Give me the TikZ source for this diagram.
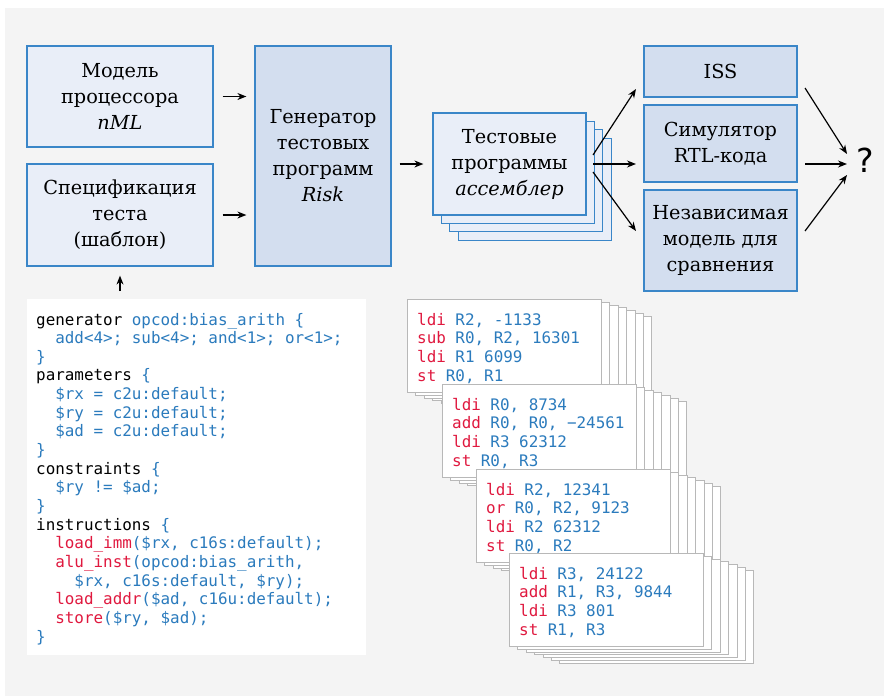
\documentclass[tikz,border=0pt]{standalone}
\usepackage{fontspec}
\setmainfont{DejaVu Serif}
\setmonofont{DejaVu Sans Mono}
\newfontfamily\qfont{DejaVu Sans}
\usetikzlibrary{arrows.meta}
\definecolor{bg}{HTML}{F4F4F4}
\definecolor{bord}{HTML}{3A86C8}
\definecolor{lightfill}{HTML}{E9EEF8}
\definecolor{darkfill}{HTML}{D3DEEF}
\definecolor{codeblue}{HTML}{2B7BBD}
\definecolor{codered}{HTML}{E0193F}
\definecolor{cardline}{HTML}{B8B8B8}
\newcommand\cR[1]{\textcolor{codered}{#1}}
\newcommand\cB[1]{\textcolor{codeblue}{#1}}
\tikzset{
  box/.style={draw=bord, line width=1.2pt, inner sep=0pt, align=center,
    font=\fontsize{19.3}{26}\selectfont},
  lbox/.style={box, fill=lightfill},
  dbox/.style={box, fill=darkfill},
  card/.style={draw=cardline, fill=white, line width=1pt, inner sep=0pt,
    minimum width=194pt, minimum height=93pt},
  codetxt/.style={anchor=base west, inner sep=0pt,
    font=\fontsize{15.9}{18}\selectfont\ttfamily},
  arr/.style={line width=1.2pt, -{Stealth[length=9pt,width=7pt]}},
}
\newcommand\cardstack[3]{%
  \foreach \k in {6,5,4,3,2,1}
    \node[card,anchor=north west] (#3-\k) at ({#1+8.4*\k},{#2+2.8*\k}) {};
  \node[card,anchor=north west] (#3) at (#1,#2) {};
}
\newcommand\cardtext[5]{%
  \node[codetxt] (#1-l1) at ([xshift=10pt,yshift=-26pt]#1.north west) {#2};
  \node[codetxt] (#1-l2) at ([xshift=10pt,yshift=-44.7pt]#1.north west) {#3};
  \node[codetxt] (#1-l3) at ([xshift=10pt,yshift=-63.4pt]#1.north west) {#4};
  \node[codetxt] (#1-l4) at ([xshift=10pt,yshift=-82.1pt]#1.north west) {#5};
}
\begin{document}
\begin{tikzpicture}[x=1pt,y=-1pt]
\useasboundingbox (0,0) rectangle (884,696);
\fill[bg] (5,8) rectangle (884,696);

% top row
\node[lbox, minimum width=186pt, minimum height=101pt] (model) at (120,96.5)
  {Модель\\процессора\\\textit{nML}};
\node[lbox, minimum width=186pt, minimum height=102pt] (spec) at (120,215)
  {Спецификация\\теста\\(шаблон)};
\node[dbox, minimum width=136pt, minimum height=220pt] (gen) at (323,156)
  {Генератор\\тестовых\\программ\\\textit{Risk}};

\foreach \k in {3,2,1}
  \node[lbox, minimum width=153pt, minimum height=102pt] (prog-\k)
    at ({509.5+8.4*\k},{164+8.4*\k}) {};
\node[lbox, minimum width=153pt, minimum height=102pt] (prog) at (509.5,164)
  {Тестовые\\программы\\\textit{ассемблер}};

\node[dbox, minimum width=153pt, minimum height=51pt] (iss) at (720.5,71.5) {ISS};
\node[dbox, minimum width=153pt, minimum height=77pt] (sim) at (720.5,143.5)
  {Симулятор\\RTL-кода};
\node[dbox, minimum width=153pt, minimum height=101pt] (ind) at (720.5,240.5)
  {Независимая\\модель для\\сравнения};

\node[font=\qfont\fontsize{33}{33}\selectfont, inner sep=0pt] (q) at (865,160) {?};

% arrows
\draw[arr] ([xshift=9pt]model.east) -- ([xshift=-8pt]model.east -| gen.west);
\draw[arr] ([xshift=9pt]spec.east) -- ([xshift=-8pt]spec.east -| gen.west);
\coordinate (specin) at (120,291);
\draw[arr] (specin) -- ([yshift=-9pt]spec.south);
\draw[arr] ([xshift=8pt]gen.east |- prog.west) -- ([xshift=-9pt]prog.west);

\coordinate (po1) at (593,155);
\coordinate (po2) at (593,164);
\coordinate (po3) at (593,172);
\coordinate (pi1) at (636,89);
\coordinate (pi2) at (636,164);
\coordinate (pi3) at (636,231);
\draw[arr] (po1) -- (pi1);
\draw[arr] (po2) -- (pi2);
\draw[arr] (po3) -- (pi3);

\coordinate (qo1) at (805,88);
\coordinate (qo2) at (805,164);
\coordinate (qo3) at (805,231);
\coordinate (qi1) at (847,154);
\coordinate (qi2) at (847,164);
\coordinate (qi3) at (847,175);
\draw[arr] (qo1) -- (qi1);
\draw[arr] (qo2) -- (qi2);
\draw[arr] (qo3) -- (qi3);

% code panel
\node[fill=white, inner sep=0pt, minimum width=339pt, minimum height=356pt]
  (codebg) at (196.5,477) {};
\foreach \t [count=\i] in {
  {generator \cB{opcod:bias\_arith \{}},
  {\cB{\phantom{xx}add<4>; sub<4>; and<1>; or<1>;}},
  {\cB{\}}},
  {parameters \cB{\{}},
  {\cB{\phantom{xx}\$rx = c2u:default;}},
  {\cB{\phantom{xx}\$ry = c2u:default;}},
  {\cB{\phantom{xx}\$ad = c2u:default;}},
  {\cB{\}}},
  {constraints \cB{\{}},
  {\cB{\phantom{xx}\$ry != \$ad;}},
  {\cB{\}}},
  {instructions \cB{\{}},
  {\phantom{xx}\cR{load\_imm}\cB{(\$rx, c16s:default);}},
  {\phantom{xx}\cR{alu\_inst}\cB{(opcod:bias\_arith,}},
  {\cB{\phantom{xxxx}\$rx, c16s:default, \$ry);}},
  {\phantom{xx}\cR{load\_addr}\cB{(\$ad, c16u:default);}},
  {\phantom{xx}\cR{store}\cB{(\$ry, \$ad);}},
  {\cB{\}}}}
  \node[codetxt] (code-\i) at (36,{325+(\i-1)*18.65}) {\t};

% assembly cards
\cardstack{407}{299}{ga}
\cardtext{ga}{\cR{ldi} \cB{R2, -1133}}{\cR{sub} \cB{R0, R2, 16301}}{\cR{ldi} \cB{R1 6099}}{\cR{st} \cB{R0, R1}}
\cardstack{442}{384}{gb}
\cardtext{gb}{\cR{ldi} \cB{R0, 8734}}{\cR{add} \cB{R0, R0, −24561}}{\cR{ldi} \cB{R3 62312}}{\cR{st} \cB{R0, R3}}
\cardstack{476}{469}{gc}
\cardtext{gc}{\cR{ldi} \cB{R2, 12341}}{\cR{or} \cB{R0, R2, 9123}}{\cR{ldi} \cB{R2 62312}}{\cR{st} \cB{R0, R2}}
\cardstack{509}{553}{gd}
\cardtext{gd}{\cR{ldi} \cB{R3, 24122}}{\cR{add} \cB{R1, R3, 9844}}{\cR{ldi} \cB{R3 801}}{\cR{st} \cB{R1, R3}}
\end{tikzpicture}
\end{document}
